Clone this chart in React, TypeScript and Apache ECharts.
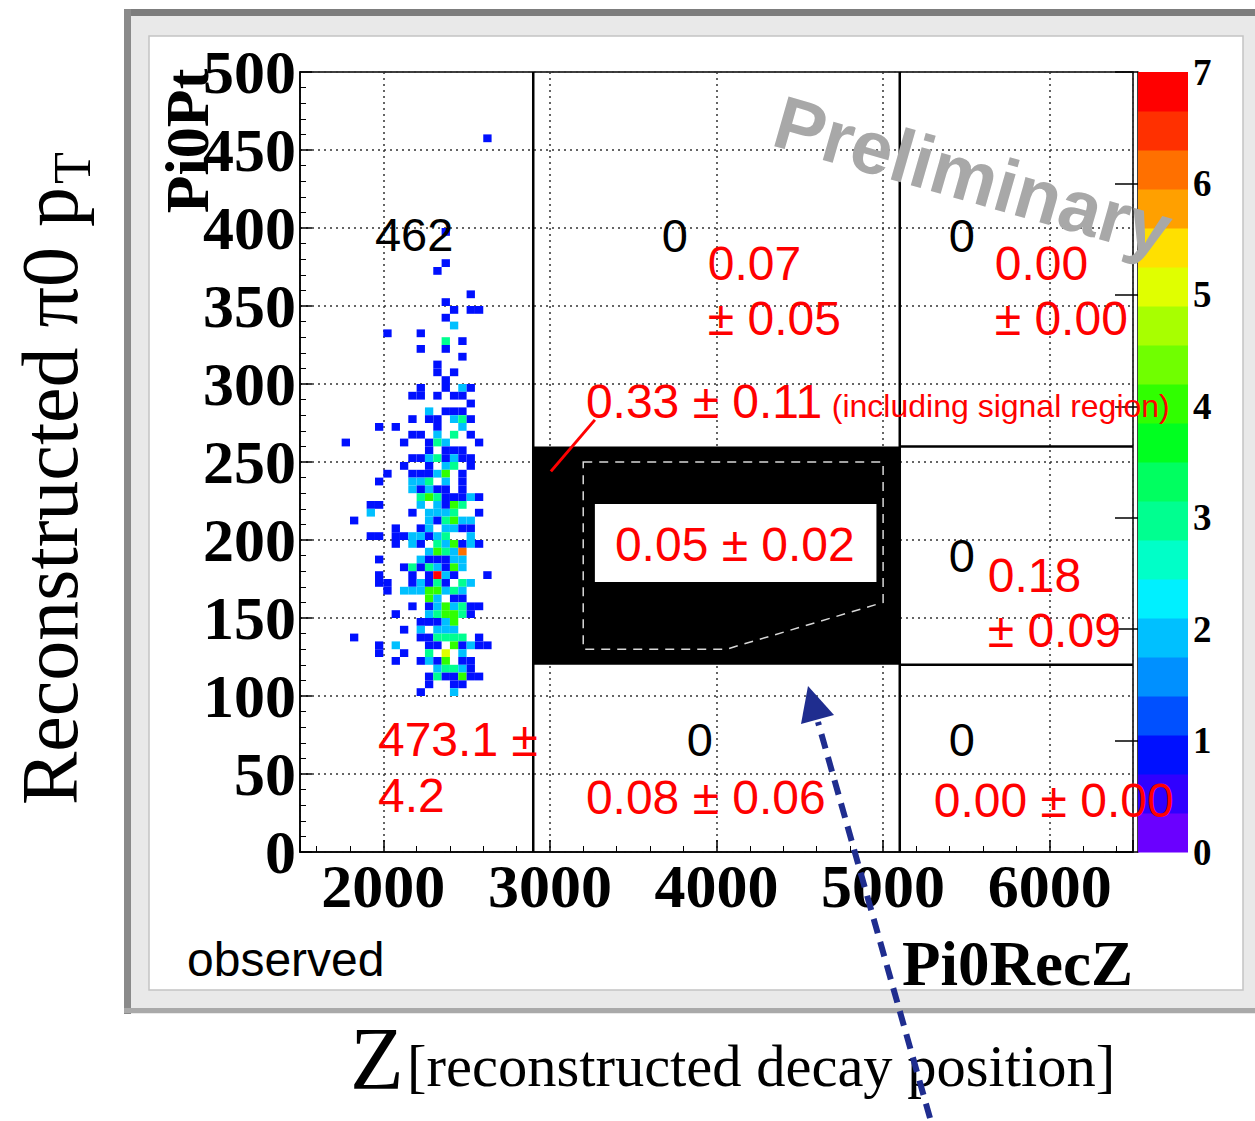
import React, { useEffect, useRef } from "react";
import * as echarts from "echarts";

// ---------- axes ----------
const xMin = 1500;
const xMax = 6500;
const yMin = 0;
const yMax = 500;
const yTickStep = 50;
const xTickLabels = [2000, 3000, 4000, 5000, 6000];
const zMin = 0;
const zMax = 7;
const zTickStep = 1;

// histogram binning (Pi0RecZ x Pi0Pt)
const binWidthX = 50;
const binWidthY = 5;

// 20-level ROOT-like rainbow palette, bottom (0) to top (7)
const palette = [
  "#6a00ff", "#3000ff", "#0010ff", "#0050ff", "#0090ff",
  "#00c0ff", "#00f0ff", "#00ffc8", "#00ff90", "#00ff60",
  "#00ff20", "#30ff00", "#70ff00", "#a8ff00", "#e0ff00",
  "#ffe000", "#ffa000", "#ff7000", "#ff3000", "#ff0000",
];

// observed entries: [binLowZ, binLowPt, count]
const histCells: number[][] = [
  [2600, 455, 1],
  [2350, 395, 1],
  [2350, 375, 1],
  [2300, 370, 1],
  [2500, 355, 1],
  [2350, 350, 1],
  [2400, 345, 1], [2500, 345, 1], [2550, 345, 1],
  [2350, 340, 1],
  [2400, 335, 2],
  [2000, 330, 1], [2200, 330, 1],
  [2350, 325, 3], [2450, 325, 1],
  [2200, 320, 1], [2350, 320, 1],
  [2450, 315, 1],
  [2300, 310, 1],
  [2300, 305, 1], [2400, 305, 1],
  [2350, 300, 1],
  [2200, 295, 1], [2350, 295, 1], [2450, 295, 2], [2500, 295, 1],
  [2150, 290, 1], [2200, 290, 1], [2300, 290, 1], [2400, 290, 1], [2450, 290, 1],
  [2500, 285, 1],
  [2250, 280, 2], [2350, 280, 1], [2400, 280, 1], [2450, 280, 1],
  [2150, 275, 1], [2250, 275, 1], [2300, 275, 1], [2400, 275, 2], [2450, 275, 3], [2500, 275, 1],
  [1950, 270, 1], [2050, 270, 1], [2300, 270, 1], [2450, 270, 2],
  [2150, 265, 1], [2200, 265, 1], [2300, 265, 2], [2400, 265, 3], [2500, 265, 1],
  [1750, 260, 1], [2100, 260, 1], [2250, 260, 1], [2300, 260, 3], [2350, 260, 2], [2550, 260, 1],
  [2250, 255, 1], [2350, 255, 1], [2400, 255, 1], [2450, 255, 1],
  [2150, 250, 1], [2200, 250, 1], [2250, 250, 2], [2300, 250, 3], [2350, 250, 1], [2400, 250, 2], [2450, 250, 1], [2500, 250, 1],
  [2100, 245, 1], [2250, 245, 1], [2350, 245, 2], [2400, 245, 3], [2500, 245, 1],
  [2000, 240, 1], [2150, 240, 1], [2200, 240, 1], [2250, 240, 1], [2300, 240, 2], [2350, 240, 4], [2450, 240, 1],
  [1950, 235, 1], [2150, 235, 2], [2200, 235, 2], [2250, 235, 3], [2350, 235, 2], [2450, 235, 1],
  [2150, 230, 2], [2200, 230, 1], [2250, 230, 2], [2300, 230, 1], [2350, 230, 1], [2450, 230, 1],
  [2200, 225, 3], [2250, 225, 4], [2300, 225, 3], [2350, 225, 1], [2400, 225, 1], [2450, 225, 1], [2500, 225, 2], [2550, 225, 1],
  [1900, 220, 1], [1950, 220, 1], [2200, 220, 2], [2300, 220, 2], [2350, 220, 1], [2400, 220, 4], [2450, 220, 3],
  [1900, 215, 2], [2150, 215, 1], [2250, 215, 2], [2300, 215, 2], [2350, 215, 2], [2400, 215, 3], [2550, 215, 1],
  [1800, 210, 1], [2250, 210, 2], [2300, 210, 1], [2350, 210, 3], [2400, 210, 4], [2450, 210, 2], [2500, 210, 2],
  [2050, 205, 1], [2200, 205, 1], [2250, 205, 2], [2350, 205, 2], [2400, 205, 2], [2450, 205, 1], [2500, 205, 1],
  [1900, 200, 1], [1950, 200, 1], [2050, 200, 1], [2100, 200, 1], [2150, 200, 2], [2200, 200, 2], [2250, 200, 1], [2300, 200, 2], [2350, 200, 3], [2500, 200, 2],
  [2050, 195, 1], [2150, 195, 2], [2200, 195, 1], [2300, 195, 3], [2350, 195, 2], [2400, 195, 4], [2450, 195, 1], [2500, 195, 2], [2550, 195, 1],
  [2250, 190, 2], [2300, 190, 4], [2350, 190, 3], [2400, 190, 2], [2450, 190, 6],
  [1950, 185, 1], [2200, 185, 2], [2250, 185, 1], [2300, 185, 1], [2350, 185, 1], [2400, 185, 2], [2450, 185, 2],
  [2100, 180, 1], [2150, 180, 3], [2200, 180, 1], [2250, 180, 3], [2300, 180, 2], [2350, 180, 1], [2400, 180, 4], [2450, 180, 2],
  [1950, 175, 1], [2150, 175, 1], [2250, 175, 1], [2300, 175, 7], [2350, 175, 2], [2400, 175, 1], [2600, 175, 1],
  [1950, 170, 1], [2000, 170, 1], [2150, 170, 1], [2200, 170, 2], [2250, 170, 1], [2300, 170, 3], [2350, 170, 1], [2450, 170, 3], [2500, 170, 2],
  [2000, 165, 1], [2100, 165, 2], [2150, 165, 2], [2200, 165, 2], [2250, 165, 4], [2300, 165, 4], [2350, 165, 2], [2400, 165, 3], [2450, 165, 2],
  [2250, 160, 4], [2300, 160, 2], [2400, 160, 1], [2450, 160, 1],
  [2150, 155, 1], [2250, 155, 1], [2300, 155, 2], [2350, 155, 4], [2400, 155, 2], [2450, 155, 3], [2500, 155, 1], [2550, 155, 1],
  [2050, 150, 1], [2250, 150, 2], [2300, 150, 3], [2350, 150, 4], [2400, 150, 4], [2450, 150, 3], [2500, 150, 1],
  [2200, 145, 1], [2250, 145, 1], [2300, 145, 1], [2350, 145, 2], [2400, 145, 4],
  [2100, 140, 1], [2200, 140, 2], [2300, 140, 2], [2350, 140, 2], [2400, 140, 2],
  [1800, 135, 1], [2200, 135, 1], [2250, 135, 1], [2300, 135, 3], [2350, 135, 3], [2400, 135, 3], [2450, 135, 3], [2550, 135, 1],
  [1950, 130, 1], [2050, 130, 2], [2250, 130, 1], [2300, 130, 1], [2400, 130, 4], [2450, 130, 1], [2500, 130, 2], [2550, 130, 1], [2600, 130, 1],
  [1950, 125, 1], [2100, 125, 1], [2250, 125, 3], [2350, 125, 5], [2450, 125, 2],
  [2050, 120, 1], [2200, 120, 1], [2250, 120, 2], [2300, 120, 1], [2350, 120, 4], [2450, 120, 1], [2500, 120, 1],
  [2300, 115, 2], [2350, 115, 3], [2400, 115, 3], [2450, 115, 2], [2500, 115, 1],
  [2250, 110, 1], [2300, 110, 3], [2350, 110, 1], [2400, 110, 1], [2450, 110, 4], [2500, 110, 1], [2550, 110, 1],
  [2250, 105, 1], [2400, 105, 1], [2450, 105, 1],
  [2200, 100, 1], [2400, 100, 2],
];

// analysis regions (data units: Pi0RecZ, Pi0Pt)
const blindBox = [2900, 120, 5100, 260]; // [z0, pt0, z1, pt1]
const zBoundaries = [2900, 5100];
const ptBoundaries = [120, 260];
const signalRegion = [[3200, 250], [5000, 250], [5000, 160], [4060, 130], [3200, 130]];
const signalLabelBox = [3270, 173, 4960, 223];
const leaderLine = [[3006, 244], [3270, 277]];

// region texts: observed counts (black) and expectations (red)
const regionLabels = [
  { text: "462", x: 1950, y: 396, color: "#000", size: 47, align: "left" },
  { text: "0", x: 3750, y: 395, color: "#000", size: 47, align: "center" },
  { text: "0", x: 5472, y: 395, color: "#000", size: 47, align: "center" },
  { text: "0", x: 5472, y: 190, color: "#000", size: 47, align: "center" },
  { text: "0", x: 3900, y: 72, color: "#000", size: 47, align: "center" },
  { text: "0", x: 5472, y: 72, color: "#000", size: 47, align: "center" },
  { text: "0.07", x: 3948, y: 377, color: "#ff0000", size: 48, align: "left" },
  { text: "± 0.05", x: 3948, y: 342, color: "#ff0000", size: 48, align: "left" },
  { text: "0.00", x: 5670, y: 377, color: "#ff0000", size: 48, align: "left" },
  { text: "± 0.00", x: 5670, y: 342, color: "#ff0000", size: 48, align: "left" },
  { text: "0.33 ± 0.11", x: 3216, y: 289, color: "#ff0000", size: 48, align: "left" },
  { text: "(including signal region)", x: 4692, y: 286, color: "#ff0000", size: 32, align: "left" },
  { text: "0.05 ± 0.02", x: 4110, y: 197, color: "#ff0000", size: 48, align: "center" },
  { text: "0.18", x: 5628, y: 177, color: "#ff0000", size: 48, align: "left" },
  { text: "± 0.09", x: 5628, y: 142, color: "#ff0000", size: 48, align: "left" },
  { text: "473.1 ±", x: 1968, y: 72, color: "#ff0000", size: 48, align: "left" },
  { text: "4.2", x: 1968, y: 36, color: "#ff0000", size: 48, align: "left" },
  { text: "0.08 ± 0.06", x: 3216, y: 35, color: "#ff0000", size: 48, align: "left" },
  { text: "0.00 ± 0.00", x: 5304, y: 33, color: "#ff0000", size: 48, align: "left" },
];

const serif = '"Liberation Serif", "Times New Roman", serif';
const sans = '"Liberation Sans", Arial, Helvetica, sans-serif';

const nBands = palette.length;
const bandStep = (zMax - zMin) / nBands;
const colorFor = (n: number) =>
  palette[Math.max(0, Math.min(nBands - 1, Math.floor((n - zMin) / bandStep)))];

const colorBands = palette.map((_, k) => [0, zMin + k * bandStep, zMin + (k + 1) * bandStep]);

function buildOption() {
  const tickFont = { color: "#000", fontFamily: serif, fontWeight: "bold" as const };
  return {
    animation: false,
    backgroundColor: "#ffffff",
    grid: [
      { left: 300, top: 72, width: 833, height: 780, show: true, borderColor: "#000", borderWidth: 1.5, backgroundColor: "transparent" },
      { left: 1138, top: 72, width: 50, height: 780, show: false },
    ],
    xAxis: [
      {
        type: "value",
        gridIndex: 0,
        min: xMin,
        max: xMax,
        splitNumber: 5,
        axisLine: { lineStyle: { color: "#000", width: 1.5 } },
        axisTick: { inside: true, length: 12, lineStyle: { color: "#000", width: 1.5 } },
        minorTick: { show: true, splitNumber: 5, length: 6, lineStyle: { color: "#000", width: 1 } },
        axisLabel: {
          ...tickFont,
          fontSize: 62,
          margin: 3,
          formatter: (v: number) => (xTickLabels.includes(v) ? String(v) : ""),
        },
        splitLine: { show: true, lineStyle: { color: "#333", type: [2, 4], width: 1.5 } },
      },
      { type: "value", gridIndex: 1, min: 0, max: 1, show: false },
    ],
    yAxis: [
      {
        type: "value",
        gridIndex: 0,
        min: yMin,
        max: yMax,
        interval: yTickStep,
        axisLine: { show: true, lineStyle: { color: "#000", width: 1.5 } },
        axisTick: { show: true, inside: true, length: 12, lineStyle: { color: "#000", width: 1.5 } },
        minorTick: { show: true, splitNumber: 5, length: 6, lineStyle: { color: "#000", width: 1 } },
        axisLabel: { ...tickFont, fontSize: 62, margin: 4 },
        splitLine: { show: true, lineStyle: { color: "#333", type: [2, 4], width: 1.5 } },
      },
      {
        type: "value",
        gridIndex: 1,
        min: zMin,
        max: zMax,
        interval: zTickStep,
        position: "right",
        axisLine: { show: true, lineStyle: { color: "#000", width: 1.5 } },
        axisTick: { show: true, inside: true, length: 23, lineStyle: { color: "#000", width: 1.5 } },
        axisLabel: { ...tickFont, fontSize: 37, margin: 5 },
        splitLine: { show: false },
      },
    ],
    series: [
      {
        type: "custom",
        name: "cells",
        xAxisIndex: 0,
        yAxisIndex: 0,
        z: 3,
        data: histCells,
        encode: { x: 0, y: 1 },
        renderItem: (_p: any, api: any) => {
          const x = api.value(0);
          const y = api.value(1);
          const n = api.value(2);
          const a = api.coord([x, y + binWidthY]);
          const b = api.coord([x + binWidthX, y]);
          return {
            type: "rect",
            shape: { x: a[0], y: a[1], width: b[0] - a[0], height: b[1] - a[1] },
            style: { fill: colorFor(n), stroke: null },
          };
        },
      },
      {
        type: "custom",
        name: "colorbar",
        xAxisIndex: 1,
        yAxisIndex: 1,
        z: 3,
        data: colorBands,
        encode: { x: 0, y: 1 },
        renderItem: (p: any, api: any) => {
          const lo = api.value(1);
          const hi = api.value(2);
          const a = api.coord([0, hi]);
          const b = api.coord([1, lo]);
          return {
            type: "rect",
            shape: { x: a[0], y: a[1], width: b[0] - a[0], height: b[1] - a[1] + 0.5 },
            style: { fill: palette[p.dataIndex] },
          };
        },
      },
      {
        type: "custom",
        name: "regions",
        xAxisIndex: 0,
        yAxisIndex: 0,
        z: 4,
        clip: false,
        data: [[4000, 200]],
        encode: { x: 0, y: 1 },
        renderItem: (_p: any, api: any) => {
          const c = (pt: number[]) => api.coord(pt);
          const bb0 = c([blindBox[0], blindBox[3]]);
          const bb1 = c([blindBox[2], blindBox[1]]);
          const lb0 = c([signalLabelBox[0], signalLabelBox[3]]);
          const lb1 = c([signalLabelBox[2], signalLabelBox[1]]);
          const children: any[] = [
            {
              type: "rect",
              shape: { x: bb0[0], y: bb0[1], width: bb1[0] - bb0[0], height: bb1[1] - bb0[1] },
              style: { fill: "#000" },
            },
          ];
          zBoundaries.forEach((zv) => {
            const p0 = c([zv, yMin]);
            const p1 = c([zv, yMax]);
            children.push({
              type: "line",
              shape: { x1: p0[0], y1: p0[1], x2: p1[0], y2: p1[1] },
              style: { stroke: "#000", lineWidth: 2.5 },
            });
          });
          ptBoundaries.forEach((pv) => {
            const p0 = c([zBoundaries[1], pv]);
            const p1 = c([xMax, pv]);
            children.push({
              type: "line",
              shape: { x1: p0[0], y1: p0[1], x2: p1[0], y2: p1[1] },
              style: { stroke: "#000", lineWidth: 2.5 },
            });
          });
          children.push({
            type: "polygon",
            shape: { points: signalRegion.map((pt) => c(pt)) },
            style: { fill: "none", stroke: "#d8d8d8", lineWidth: 1.5, lineDash: [9, 7] },
          });
          children.push({
            type: "rect",
            shape: { x: lb0[0], y: lb0[1], width: lb1[0] - lb0[0], height: lb1[1] - lb0[1] },
            style: { fill: "#fff" },
          });
          const l0 = c(leaderLine[0]);
          const l1 = c(leaderLine[1]);
          children.push({
            type: "line",
            shape: { x1: l0[0], y1: l0[1], x2: l1[0], y2: l1[1] },
            style: { stroke: "#ff0000", lineWidth: 3 },
          });
          return { type: "group", children };
        },
      },
      {
        type: "custom",
        name: "labels",
        xAxisIndex: 0,
        yAxisIndex: 0,
        z: 6,
        clip: false,
        data: regionLabels.map((l) => [l.x, l.y]),
        encode: { x: 0, y: 1 },
        renderItem: (p: any, api: any) => {
          const l = regionLabels[p.dataIndex];
          const pt = api.coord([l.x, l.y]);
          return {
            type: "text",
            x: pt[0],
            y: pt[1],
            style: {
              text: l.text,
              fill: l.color,
              fontSize: l.size,
              fontFamily: sans,
              align: l.align,
              verticalAlign: "middle",
            },
          };
        },
      },
    ],
    graphic: {
      elements: [
        // canvas frame (decoration)
        { type: "rect", z: -10, shape: { x: 124, y: 9, width: 1140, height: 1005 }, style: { fill: "#e9e9e9" } },
        { type: "rect", z: -9, shape: { x: 124, y: 9, width: 1140, height: 7 }, style: { fill: "#7d7d7d" } },
        { type: "rect", z: -9, shape: { x: 124, y: 9, width: 7, height: 1005 }, style: { fill: "#8a8a8a" } },
        { type: "rect", z: -9, shape: { x: 124, y: 1008, width: 1140, height: 5 }, style: { fill: "#a9a9a9" } },
        { type: "rect", z: -8, shape: { x: 149, y: 36, width: 1094, height: 954 }, style: { fill: "#fff", stroke: "#c4c4c4", lineWidth: 1.5 } },
        // axis titles
        {
          type: "text", z: 50, x: 187, y: 141, rotation: Math.PI / 2,
          style: { text: "Pi0Pt", fill: "#000", fontSize: 62, fontWeight: "bold", fontFamily: serif, align: "center", verticalAlign: "middle", textAlign: "center", textVerticalAlign: "middle" },
        },
        {
          type: "text", z: 50, x: 1133, y: 964,
          style: { text: "Pi0RecZ", fill: "#000", fontSize: 63, fontWeight: "bold", fontFamily: serif, align: "right", verticalAlign: "middle", textAlign: "right", textVerticalAlign: "middle" },
        },
        {
          type: "text", z: 50, x: 187, y: 959,
          style: { text: "observed", fill: "#000", fontSize: 48, fontFamily: sans, align: "left", verticalAlign: "middle", textAlign: "left", textVerticalAlign: "middle" },
        },
        // outer slide annotations
        {
          type: "text", z: 50, x: 50, y: 805, rotation: Math.PI / 2,
          style: { text: "Reconstructed π0 p", fill: "#000", fontSize: 80, fontFamily: serif, align: "left", verticalAlign: "middle", textAlign: "left", textVerticalAlign: "middle" },
        },
        {
          type: "text", z: 50, x: 72, y: 184, rotation: Math.PI / 2,
          style: { text: "T", fill: "#000", fontSize: 52, fontFamily: serif, align: "left", verticalAlign: "middle", textAlign: "left", textVerticalAlign: "middle" },
        },
        {
          type: "text", z: 50, x: 350, y: 1102,
          style: { text: "Z", fill: "#000", fontSize: 88, fontFamily: serif, align: "left", verticalAlign: "bottom", textAlign: "left", textVerticalAlign: "bottom" },
        },
        {
          type: "text", z: 50, x: 407, y: 1096,
          style: { text: "[reconstructed decay position]", fill: "#000", fontSize: 58.5, fontFamily: serif, align: "left", verticalAlign: "bottom", textAlign: "left", textVerticalAlign: "bottom" },
        },
        // watermark
        {
          type: "text", z: 100, x: 973, y: 176, rotation: -0.28,
          style: { text: "Preliminary", fill: "#a8a8a8", fontSize: 75, fontWeight: "bold", fontFamily: sans, align: "center", verticalAlign: "middle", textAlign: "center", textVerticalAlign: "middle" },
        },
        // dashed arrow pointing to the signal region
        {
          type: "line", z: 100,
          shape: { x1: 930, y1: 1118, x2: 818, y2: 722 },
          style: { stroke: "#1f2d8f", lineWidth: 6, lineDash: [15, 9] },
        },
        {
          type: "polygon", z: 100,
          shape: { points: [[808, 686], [834, 715], [801, 724]] },
          style: { fill: "#1f2d8f" },
        },
      ],
    },
  };
}

export default function App() {
  const ref = useRef<HTMLDivElement>(null);
  useEffect(() => {
    if (!ref.current) return;
    const chart = echarts.init(ref.current, null, { renderer: "svg" });
    chart.setOption(buildOption() as any);
    return () => chart.dispose();
  }, []);
  return (
    <div
      ref={ref}
      style={{ position: "absolute", left: 0, top: 0, width: 1255, height: 1121 }}
    />
  );
}
